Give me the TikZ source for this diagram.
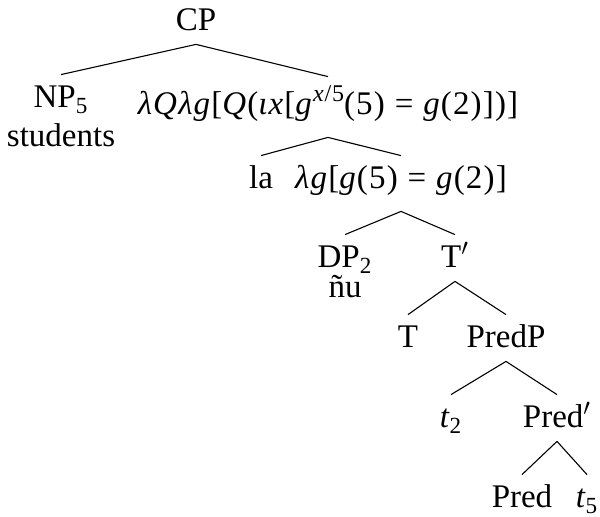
\documentclass[tikz,border=0pt]{standalone}
\usepackage{fontspec}
\setmainfont{Liberation Serif}
\newfontfamily\lamfam[LetterSpace=3.5]{Liberation Serif}
\newcommand\mi[1]{\textit{#1}}
\newcommand\supsc[1]{\raisebox{0.42em}{\fontsize{12}{13}\selectfont #1}}
\begin{document}
\begin{tikzpicture}[x=0.5pt,y=-0.5pt,
  font=\fontsize{16.5}{19}\selectfont,
  lab/.style={inner sep=0pt, anchor=base, text height=16.5pt, text depth=6.5pt},
  lam/.style={inner sep=0pt, anchor=base, text depth=11pt, font=\fontsize{16.5}{19}\lamfam},
  word/.style={inner sep=0pt, anchor=base},
  edge/.style={line width=0.55pt}]
\useasboundingbox (0,0) rectangle (600,517);
% nodes
\node[lab] (CP) at (196,31) {CP};
\node[lab] (NP) at (61,108) {NP\textsubscript{5}};
\node[word] (stud) at (61,147) {students};
\node[lam, text height=19pt] (L1) at (328,115)
  {\mi{λQλg}[\mi{Q}(\mi{ιx}[\mi{g}\supsc{\mi{x}/5}(5)\hspace{0.3em}=\hspace{0.3em}\mi{g}(2)])]};
\node[lab] (la) at (261,189) {la};
\node[lam, text height=16.5pt] (L2) at (401,189)
  {\mi{λg}[\mi{g}(5)\hspace{0.3em}=\hspace{0.3em}\mi{g}(2)]};
\node[lab] (DP) at (345,268) {DP\textsubscript{2}};
\node[word] (nu) at (345,298) {ñu};
\node[lab] (Tb) at (455,268) {T$'$};
\node[lab] (T) at (408,348) {T};
\node[lab] (PredP) at (506,348) {PredP};
\node[lab] (t2) at (451,428) {\mi{t}\textsubscript{2}};
\node[lab] (Pb) at (557,428) {Pred$'$};
\node[lab] (Pred) at (522,508) {Pred};
\node[lab] (t5) at (587,508) {\mi{t}\textsubscript{5}};
% edges
\draw[edge] (CP.south) -- (NP.north);
\draw[edge] (CP.south) -- (L1.north);
\draw[edge] (L1.south) -- (la.north);
\draw[edge] (L1.south) -- (L2.north);
\draw[edge] (L2.south) -- (DP.north);
\draw[edge] (L2.south) -- (Tb.north);
\draw[edge] (Tb.south) -- (T.north);
\draw[edge] (Tb.south) -- (PredP.north);
\draw[edge] (PredP.south) -- (t2.north);
\draw[edge] (PredP.south) -- (Pb.north);
\draw[edge] (Pb.south) -- (Pred.north);
\draw[edge] (Pb.south) -- (t5.north);
\end{tikzpicture}
\end{document}
